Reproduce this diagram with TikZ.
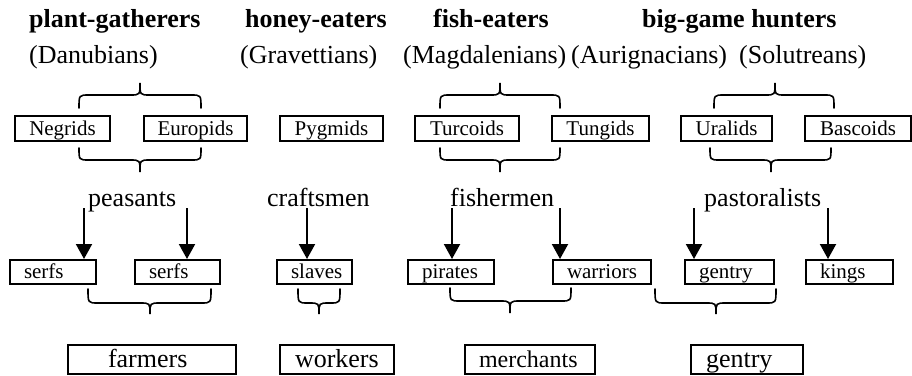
\documentclass[tikz,border=0pt]{standalone}
\usepackage{fontspec}
\setmainfont{Liberation Serif}
\usetikzlibrary{arrows.meta}

% curly brace: ends at height #3, spine at #4, point at #5; spans #1..#2 with point at #6
\newcommand{\drawbrace}[6]{%
  \draw[bracestyle] (#1,#3) .. controls (#1,#4) .. (#1+10,#4)
    -- (#6-10,#4) .. controls (#6,#4) .. (#6,#5)
    .. controls (#6,#4) .. (#6+10,#4)
    -- (#2-10,#4) .. controls (#2,#4) .. (#2,#3);}

\begin{document}
\begin{tikzpicture}[x=1pt,y=-1pt,
  heading/.style={anchor=base west,inner sep=0pt,font=\fontsize{26}{30}\selectfont\bfseries},
  label/.style={anchor=base west,inner sep=0pt,font=\fontsize{26}{30}\selectfont},
  racebox/.style={draw,line width=2pt,anchor=north west,minimum width=#1,minimum height=25pt,
    inner xsep=0pt,inner ysep=2pt,text height=17.5pt,text depth=3.5pt,
    font=\fontsize{21}{24}\selectfont},
  rolebox/.style={draw,line width=2pt,anchor=north west,text width=#1-28pt,align=left,
    inner xsep=14pt,inner ysep=2pt,text height=16pt,text depth=4pt,
    font=\fontsize{21}{24}\selectfont},
  classbox/.style 2 args={draw,line width=2pt,anchor=north west,text width=#1-2*#2,align=left,
    inner xsep=#2,inner ysep=2pt,text height=20pt,text depth=5pt,
    font=\fontsize{26}{30}\selectfont},
  bracestyle/.style={line width=1.6pt,line cap=round},
  arr/.style={line width=2pt,-{Triangle[width=16pt,length=15pt]}}]
\useasboundingbox (0,0) rectangle (912,375);

% way of life
\node[heading] (hPlant) at (29,27) {plant-gatherers};
\node[heading] (hHoney) at (245,27) {honey-eaters};
\node[heading] (hFish)  at (433,27) {fish-eaters};
\node[heading] (hGame)  at (642,27) {big-game hunters};

% archaeological cultures
\node[label] (cDan) at (29,63)  {(Danubians)};
\node[label] (cGra) at (240,63) {(Gravettians)};
\node[label] (cMag) at (403,63) {(Magdalenians)};
\node[label] (cAur) at (571,63) {(Aurignacians)};
\node[label] (cSol) at (739,63) {(Solutreans)};

% races
\node[racebox=95pt]  (rNeg) at (14,115)  {Negrids};
\node[racebox=103pt] (rEur) at (143,115) {Europids};
\node[racebox=103pt] (rPyg) at (279,115) {Pygmids};
\node[racebox=104pt] (rTur) at (414,115) {Turcoids};
\node[racebox=97pt]  (rTun) at (551,115) {Tungids};
\node[racebox=91pt]  (rUra) at (680,115) {Uralids};
\node[racebox=106pt] (rBas) at (804,115) {Bascoids};

% braces around the race pairs
\drawbrace{79}{201}{108}{95}{83}{140}
\drawbrace{79}{201}{148}{160}{172}{140}
\drawbrace{440}{560}{108}{95}{83}{500}
\drawbrace{440}{560}{148}{160}{172}{500}
\drawbrace{714}{834}{108}{95}{83}{775}
\drawbrace{710}{831}{148}{160}{172}{771}

% economies
\node[label] (ePea) at (88,206)  {peasants};
\node[label] (eCra) at (267,206) {craftsmen};
\node[label] (eFis) at (450,206) {fishermen};
\node[label] (ePas) at (704,206) {pastoralists};

% social roles
\node[rolebox=86pt] (sSerfA) at (9,259)   {serfs};
\node[rolebox=85pt] (sSerfB) at (134,259) {serfs};
\node[rolebox=75pt] (sSla)   at (276,259) {slaves};
\node[rolebox=86pt] (sPir)   at (407,259) {pirates};
\node[rolebox=98pt] (sWar)   at (552,259) {warriors};
\node[rolebox=89pt] (sGen)   at (684,259) {gentry};
\node[rolebox=87pt] (sKin)   at (805,259) {kings};

% arrow starts beside the economy labels
\coordinate (aPeaL) at (84,208);
\coordinate (aPeaR) at (187,208);
\coordinate (aCra)  at (307,208);
\coordinate (aFisL) at (452,208);
\coordinate (aFisR) at (560,208);
\coordinate (aPasL) at (694,208);
\coordinate (aPasR) at (828,208);

\draw[arr] (aPeaL) -- (aPeaL |- sSerfA.north);
\draw[arr] (aPeaR) -- (aPeaR |- sSerfB.north);
\draw[arr] (aCra)  -- (aCra |- sSla.north);
\draw[arr] (aFisL) -- (aFisL |- sPir.north);
\draw[arr] (aFisR) -- (aFisR |- sWar.north);
\draw[arr] (aPasL) -- (aPasL |- sGen.north);
\draw[arr] (aPasR) -- (aPasR |- sKin.north);

% braces under the roles
\drawbrace{88}{211}{289}{303}{314}{150}
\drawbrace{298}{340}{289}{303}{314}{319}
\drawbrace{450}{571}{288}{301}{313}{510}
\drawbrace{655}{776}{289}{303}{314}{716}

% classes
\node[classbox={168pt}{40pt}] (kFar) at (67,344)  {farmers};
\node[classbox={114pt}{15pt}] (kWor) at (279,344) {workers};
\node[classbox={130pt}{14pt},font=\fontsize{24}{28}\selectfont] (kMer) at (464,344) {merchants};
\node[classbox={112pt}{15pt}] (kGen) at (690,344) {gentry};
\end{tikzpicture}
\end{document}
